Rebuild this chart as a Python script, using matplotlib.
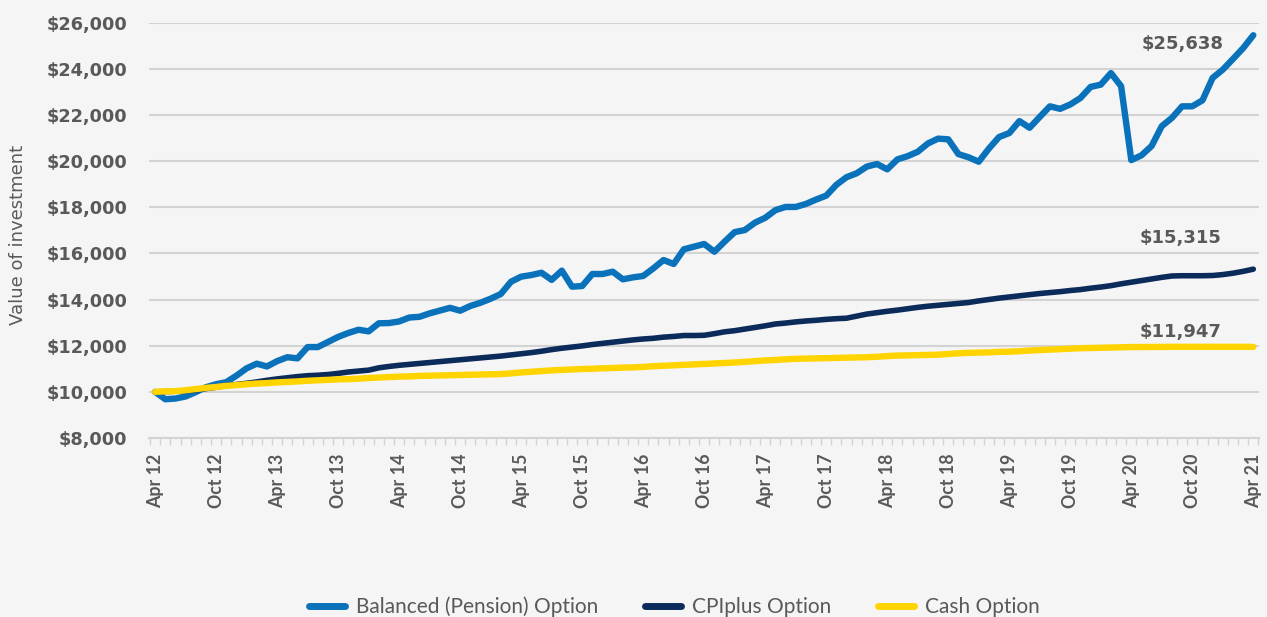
import matplotlib
matplotlib.use("Agg")
import matplotlib.pyplot as plt
from matplotlib.ticker import FuncFormatter, MultipleLocator, FixedLocator

# monthly values, Apr 12 .. Apr 21
balanced = [10000, 9680, 9710, 9800, 9990, 10200, 10330, 10420, 10700, 11020,
            11220, 11100, 11330, 11500, 11450, 11940, 11940, 12160, 12380, 12550,
            12690, 12620, 12970, 12980, 13050, 13220, 13250, 13400, 13520, 13640,
            13515, 13720, 13860, 14035, 14240, 14770, 14990, 15060, 15160, 14850,
            15250, 14555, 14585, 15105, 15105, 15205, 14875, 14960, 15020, 15350,
            15710, 15540, 16175, 16290, 16405, 16070, 16505, 16920, 17010, 17330,
            17540, 17870, 18010, 18010, 18140, 18330, 18500, 18970, 19300, 19470,
            19760, 19870, 19640, 20070, 20210, 20400, 20760, 20970, 20940, 20300,
            20160, 19970, 20540, 21040, 21210, 21730, 21440, 21910, 22370, 22260,
            22450, 22730, 23210, 23310, 23810, 23240, 20040, 20245, 20650, 21510,
            21870, 22370, 22370, 22630, 23600, 23960, 24420, 24890, 25450]

cpiplus = [10000, 10010, 10030, 10050, 10080, 10140, 10200, 10270, 10320, 10370,
           10430, 10500, 10560, 10610, 10660, 10700, 10720, 10750, 10800, 10860,
           10900, 10940, 11040, 11100, 11150, 11190, 11230, 11270, 11310, 11350,
           11390, 11430, 11470, 11510, 11550, 11600, 11650, 11700, 11760, 11830,
           11890, 11940, 11990, 12050, 12100, 12150, 12200, 12250, 12290, 12320,
           12370, 12400, 12440, 12440, 12450, 12520, 12600, 12650, 12720, 12790,
           12860, 12940, 12980, 13030, 13070, 13100, 13140, 13170, 13190, 13280,
           13370, 13430, 13490, 13540, 13600, 13660, 13710, 13750, 13790, 13830,
           13870, 13940, 14000, 14060, 14110, 14160, 14210, 14260, 14300, 14340,
           14390, 14430, 14490, 14540, 14600, 14680, 14750, 14820, 14890, 14960,
           15020, 15030, 15030, 15030, 15040, 15080, 15140, 15220, 15315]

cash = [10000, 10020, 10030, 10070, 10120, 10170, 10210, 10260, 10290, 10330,
        10360, 10380, 10410, 10430, 10450, 10480, 10500, 10520, 10540, 10550,
        10570, 10600, 10620, 10640, 10660, 10670, 10690, 10700, 10710, 10720,
        10730, 10740, 10750, 10760, 10770, 10800, 10840, 10870, 10900, 10930,
        10950, 10970, 10990, 11000, 11020, 11030, 11050, 11060, 11080, 11110,
        11130, 11150, 11170, 11190, 11210, 11230, 11250, 11270, 11300, 11330,
        11360, 11380, 11410, 11430, 11440, 11450, 11460, 11470, 11480, 11490,
        11500, 11520, 11550, 11570, 11580, 11590, 11600, 11610, 11640, 11670,
        11690, 11700, 11710, 11730, 11740, 11760, 11790, 11810, 11830, 11850,
        11870, 11890, 11900, 11910, 11920, 11930, 11940, 11940, 11945, 11945,
        11950, 11950, 11950, 11950, 11950, 11950, 11950, 11950, 11947]

tick_labels = ["Apr 12", "Oct 12", "Apr 13", "Oct 13", "Apr 14", "Oct 14",
               "Apr 15", "Oct 15", "Apr 16", "Oct 16", "Apr 17", "Oct 17",
               "Apr 18", "Oct 18", "Apr 19", "Oct 19", "Apr 20", "Oct 20", "Apr 21"]
end_labels = ["$25,638", "$15,315", "$11,947"]

bg = "#f5f5f5"
txt = "#595959"
grid_c = "#d3d3d3"
wide = "DejaVu Sans"

plt.rcParams["font.family"] = ["Lato", "DejaVu Sans"]

fig = plt.figure(figsize=(12.67, 6.17), dpi=100, facecolor=bg)
ax = fig.add_axes([0.1176, 0.2901, 0.876, 0.6734])
ax.set_facecolor(bg)

x = list(range(len(balanced)))
ax.plot(x, balanced, color="#0a72ba", lw=4.6, solid_capstyle="round",
        label="Balanced (Pension) Option", zorder=3)
ax.plot(x, cpiplus, color="#0b2b5a", lw=4.0, solid_capstyle="round",
        label="CPIplus Option", zorder=4)
ax.plot(x, cash, color="#ffd400", lw=4.6, solid_capstyle="round",
        label="Cash Option", zorder=5)

ax.set_xlim(-0.6, 108.55)
ax.set_ylim(8000, 26000)
ax.yaxis.set_major_locator(MultipleLocator(2000))
ax.yaxis.set_major_formatter(FuncFormatter(lambda v, p: f"${v:,.0f}"))
ax.grid(axis="y", color=grid_c, lw=1.5, zorder=0)
ax.tick_params(axis="y", length=0, pad=15.5, labelcolor=txt)
for t in ax.get_yticklabels():
    t.set_fontfamily(wide)
    t.set_fontweight("bold")
    t.set_fontsize(12.8)

ax.xaxis.set_major_locator(FixedLocator(range(0, 109, 6)))
ax.set_xticklabels(tick_labels, rotation=90, fontsize=12.8, color=txt,
                   fontweight="bold")
ax.xaxis.set_minor_locator(FixedLocator([i - 0.5 for i in range(110)]))
ax.tick_params(axis="x", which="major", length=0, pad=11)
ax.tick_params(axis="x", which="minor", length=5, width=1, color=grid_c)

for s in ["top", "right", "left"]:
    ax.spines[s].set_visible(False)
ax.spines["bottom"].set_color(grid_c)
ax.spines["bottom"].set_linewidth(1.5)

ax.set_ylabel("Value of investment", fontsize=13, color=txt, family=wide)
ax.yaxis.set_label_coords(-0.11, 0.488)

ax.text(105.1, 25070, end_labels[0], ha="right", va="center", fontsize=13,
        fontweight="bold", color=txt, family=wide)
ax.text(104.9, 16665, end_labels[1], ha="right", va="center", fontsize=13,
        fontweight="bold", color=txt, family=wide)
ax.text(104.9, 12590, end_labels[2], ha="right", va="center", fontsize=13,
        fontweight="bold", color=txt, family=wide)

leg = fig.legend(loc="center", bbox_to_anchor=(0.532, 0.016), ncol=3,
                 frameon=False, fontsize=15, handlelength=1.75,
                 columnspacing=2.25, handletextpad=0.5)
for t in leg.get_texts():
    t.set_color(txt)
for h in leg.get_lines():
    h.set_linewidth(5)

fig.savefig("out.png", dpi=100, facecolor=bg)
